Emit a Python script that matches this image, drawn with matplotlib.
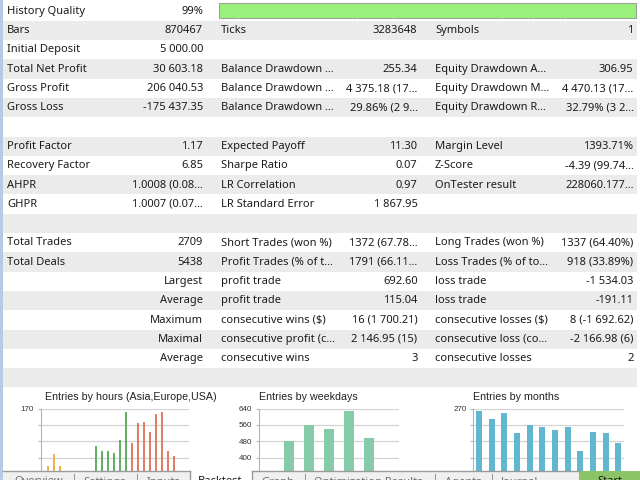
import matplotlib
matplotlib.use("Agg")
import matplotlib.pyplot as plt
from matplotlib.patches import Rectangle

# -----------------------------------------------------
# DATA
# -----------------------------------------------------

ELL = "\u2026"

col1_labels = ["History Quality", "Bars", "Initial Deposit", "Total Net Profit", "Gross Profit",
               "Gross Loss", "", "Profit Factor", "Recovery Factor", "AHPR", "GHPR", "",
               "Total Trades", "Total Deals", "", "", "", "", "", ""]
col1_values = ["99%", "870467", "5 000.00", "30 603.18", "206 040.53", "-175 437.35", "",
               "1.17", "6.85", "1.0008 (0.08" + ELL, "1.0007 (0.07" + ELL, "",
               "2709", "5438", "Largest", "Average", "Maximum", "Maximal", "Average", ""]
col2_labels = ["", "Ticks", "", "Balance Drawdown " + ELL, "Balance Drawdown " + ELL,
               "Balance Drawdown " + ELL, "", "Expected Payoff", "Sharpe Ratio", "LR Correlation",
               "LR Standard Error", "", "Short Trades (won %)", "Profit Trades (% of t" + ELL,
               "profit trade", "profit trade", "consecutive wins ($)", "consecutive profit (c" + ELL,
               "consecutive wins", ""]
col2_values = ["", "3283648", "", "255.34", "4 375.18 (17" + ELL, "29.86% (2 9" + ELL, "",
               "11.30", "0.07", "0.97", "1 867.95", "", "1372 (67.78" + ELL, "1791 (66.11" + ELL,
               "692.60", "115.04", "16 (1 700.21)", "2 146.95 (15)", "3", ""]
col3_labels = ["", "Symbols", "", "Equity Drawdown A" + ELL, "Equity Drawdown M" + ELL,
               "Equity Drawdown R" + ELL, "", "Margin Level", "Z-Score", "OnTester result", "", "",
               "Long Trades (won %)", "Loss Trades (% of to" + ELL, "loss trade", "loss trade",
               "consecutive losses ($)", "consecutive loss (co" + ELL, "consecutive losses", ""]
col3_values = ["", "1", "", "306.95", "4 470.13 (17" + ELL, "32.79% (3 2" + ELL, "",
               "1393.71%", "-4.39 (99.74" + ELL, "228060.177" + ELL, "", "",
               "1337 (64.40%)", "918 (33.89%)", "-1 534.03", "-191.11", "8 (-1 692.62)",
               "-2 166.98 (6)", "2", ""]

hours = list(range(24))
hour_counts = [135, 142, 135, 132, 0, 0, 0, 0, 147, 144, 144, 143,
               151, 168, 149, 161, 162, 156, 167, 168, 144, 141, 0, 0]
hour_colors = ["#f0b24e"] * 8 + ["#62b062"] * 6 + ["#e27e66"] * 10

weekdays = list(range(7))
weekday_counts = [0, 483, 558, 542, 630, 496, 0]

months = list(range(12))
month_counts = [264, 247, 261, 217, 234, 230, 224, 230, 179, 220, 217, 197]

tab_names = ["Overview", "Settings", "Inputs", "Backtest", "Graph",
             "Optimization Results", "Agents", "Journal"]

# -----------------------------------------------------
# FIGURE
# -----------------------------------------------------

W, H = 640, 480
fig = plt.figure(figsize=(6.4, 4.8), dpi=100)
fig.patch.set_facecolor("white")
ax = fig.add_axes([0, 0, 1, 1])
ax.set_xlim(0, W)
ax.set_ylim(H, 0)
ax.axis("off")

FONT = "Noto Sans"
FS = 8.0
TXT = "#1b1b1b"

ROW_H = 19.3
ROW_TOP = 1.4

for i in range(20):
    y0 = ROW_TOP + ROW_H * i
    if i % 2 == 1:
        ax.add_patch(Rectangle((3, y0), 634, ROW_H, color="#ebebeb", lw=0))
    yc = y0 + ROW_H / 2 + 0.3
    kw = dict(va="center", fontsize=FS, family=FONT, color=TXT)
    ax.text(7, yc, col1_labels[i], ha="left", **kw)
    ax.text(203, yc, col1_values[i], ha="right", **kw)
    ax.text(221, yc, col2_labels[i], ha="left", **kw)
    ax.text(417.5, yc, col2_values[i], ha="right", **kw)
    ax.text(435, yc, col3_labels[i], ha="left", **kw)
    ax.text(633.5, yc, col3_values[i], ha="right", **kw)

# history quality bar
ax.add_patch(Rectangle((219, 3.2), 417, 15.2, facecolor="#99f07b",
                       edgecolor="#9aa59a", lw=0.8))
for sx in [238, 357, 393, 502, 533, 565]:
    ax.plot([sx, sx], [4, 17.6], color="#a3f18a", lw=0.6)

# left window border
ax.add_patch(Rectangle((0, 0), 3, H, color="#b3cbe6", lw=0))


def px_axes(x0, y0, x1, y1, zorder=2):
    return fig.add_axes([x0 / W, 1 - y1 / H, (x1 - x0) / W, (y1 - y0) / H], zorder=zorder)


def small_chart(box, x, y, colors, width, xlim, ylim, ticks, labels, title, tx):
    c = px_axes(*box)
    c.bar(x, y, width=width, color=colors, edgecolor="none", zorder=3)
    c.set_xlim(*xlim)
    c.set_ylim(*ylim)
    c.set_yticks(ticks)
    c.set_yticklabels(labels)
    c.set_xticks([])
    c.grid(axis="y", color="#d4d4d4", lw=0.9, zorder=0)
    for s in ["top", "right", "bottom"]:
        c.spines[s].set_visible(False)
    c.spines["left"].set_color("#b4b4b4")
    c.tick_params(axis="y", length=2, color="#b4b4b4", pad=3, labelsize=5.8,
                  labelcolor="#333333")
    for t in c.get_yticklabels():
        t.set_family("Liberation Sans")
    c.set_facecolor("none")
    ax.text(tx, 396.5, title, ha="left", va="center", fontsize=7.7,
            family="Liberation Sans", color="#222222")
    return c


small_chart((41, 408.7, 189.3, 480), hours, hour_counts, hour_colors, 0.45,
            (-1.17, 23.55), (126.3, 170), [170, 160, 150, 140, 130],
            ["170", "", "", "", ""], "Entries by hours (Asia,Europe,USA)", 45)

small_chart((259, 408.7, 399, 480), weekdays, weekday_counts, "#86cba8", 0.53,
            (-0.5, 6.5), (290, 640), [640, 560, 480, 400, 320],
            ["640", "560", "480", "400", ""], "Entries by weekdays", 259)

small_chart((473.3, 408.7, 624, 480), months, month_counts, "#62b6cf", 0.47,
            (-0.45, 11.45), (117, 270), [270, 235, 200, 165, 130],
            ["270", "", "", "", ""], "Entries by months", 473)

# -----------------------------------------------------
# TAB STRIP
# -----------------------------------------------------

tb = px_axes(0, 470, 640, 480, zorder=10)
tb.set_xlim(0, W)
tb.set_ylim(480, 470)
tb.axis("off")
tb.add_patch(Rectangle((0, 470), 3, 10, color="#b3cbe6", lw=0))
tb.add_patch(Rectangle((3, 471), 576, 9, color="#f0f0f0", lw=0))
tb.add_patch(Rectangle((190, 470), 62, 10, color="white", lw=0))
tb.add_patch(Rectangle((579, 471), 61, 9, color="#8cc468", lw=0))
tb.plot([3, 190], [471.2, 471.2], color="#9a9a9a", lw=1)
tb.plot([252, 579], [471.2, 471.2], color="#9a9a9a", lw=1)
tb.plot([190, 190], [471, 480], color="#9a9a9a", lw=1)
tb.plot([252, 252], [471, 480], color="#9a9a9a", lw=1)
for sx in [74, 137, 305, 435, 492]:
    tb.plot([sx, sx], [474, 480], color="#9a9a9a", lw=0.8)

tab_x = [39, 105, 163, 220, 278, 368, 463, 520]
for name, tx in zip(tab_names, tab_x):
    col = TXT if name == "Backtest" else "#707070"
    ty = 475.5 if name == "Backtest" else 476.5
    tb.text(tx, ty, name, ha="center", va="top", fontsize=FS, family=FONT, color=col)
tb.text(610, 476.5, "Start", ha="center", va="top", fontsize=FS, family=FONT, color=TXT)

fig.savefig("out.png", dpi=100)
